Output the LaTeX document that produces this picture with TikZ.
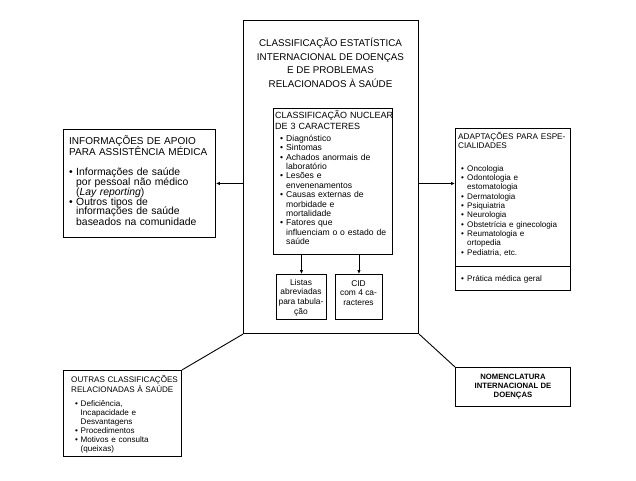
\documentclass[tikz,border=0pt]{standalone}
\usepackage{fontspec}
\setmainfont{Liberation Sans}
\usetikzlibrary{arrows.meta}
\newcommand\bl[1]{\makebox[#1][l]{\textbullet}}
\newcommand\ix[1]{\hspace*{#1}}
\newcommand\fst{\lineskiplimit=-1000pt\lineskip=0pt\rule{0pt}{1em}}
\begin{document}
\begin{tikzpicture}[x=1pt,y=-1pt,
  box/.style={draw, line width=0.9pt, inner sep=0pt, anchor=north west},
  txt/.style={inner sep=0pt, anchor=north west, align=left, text width=140pt},
  arr/.style={line width=0.9pt, -{Latex[length=4pt,width=3.5pt]}},
  ln/.style={line width=0.9pt}]
\useasboundingbox (0,0) rectangle (636,480);
\fill[white] (0,0) rectangle (636,480);

% main box
\node[box, line width=1.1pt, minimum width=175pt, minimum height=313pt] (main) at (243,20) {};
\node[inner sep=0pt, anchor=north, align=center, font=\fontsize{9.8}{13.5}\selectfont] (title) at (330.5,36.7)
  {\fst CLASSIFICAÇÃO ESTATÍSTICA\\INTERNACIONAL DE DOENÇAS\\E DE PROBLEMAS\\RELACIONADOS À SAÚDE};

% nuclear box
\node[box, minimum width=119pt, minimum height=146pt] (nuc) at (273,108) {};
\node[txt, font=\fontsize{9}{11}\selectfont] (nuct) at (275,109.2) {\fst CLASSIFICAÇÃO NUCLEAR\\DE 3 CARACTERES};
\node[txt, font=\fontsize{8.6}{9.4}\selectfont] (nuci) at (280,132.5)
  {\fst\bl{6pt}Diagnóstico\\\bl{6pt}Sintomas\\\bl{6pt}Achados anormais de\\\ix{6pt}laboratório\\
   \bl{6pt}Lesões e\\\ix{6pt}envenenamentos\\\bl{6pt}Causas externas de\\\ix{6pt}morbidade e\\\ix{6pt}mortalidade\\
   \bl{6pt}Fatores que\\\ix{6pt}influenciam o o estado de\\\ix{6pt}saúde};

% listas & CID
\node[box, minimum width=50pt, minimum height=45pt] (listas) at (276,274) {};
\node[inner sep=0pt, anchor=north, align=center, font=\fontsize{8.4}{9.6}\selectfont] (listast) at (301,276.6)
  {\fst Listas\\abreviadas\\para tabula-\\ção};
\node[box, minimum width=47pt, minimum height=45pt] (cid) at (335,274) {};
\node[inner sep=0pt, anchor=north, align=center, font=\fontsize{8.4}{9.6}\selectfont] (cidt) at (358.5,277.6)
  {\fst CID\\com 4 ca-\\racteres};
\draw[arr] (nuc.south -| listas.north) -- (listas.north);
\draw[arr] (nuc.south -| cid.north) -- (cid.north);

% left box
\node[box, minimum width=152pt, minimum height=108pt] (apoio) at (63,129) {};
\node[txt, font=\fontsize{10}{11}\selectfont] (apoiot) at (69,134.6) {\fst INFORMAÇÕES DE APOIO\\PARA ASSISTÊNCIA MÉDICA};
\node[txt, font=\fontsize{10.4}{9.7}\selectfont] (apoioi) at (69,165.3)
  {\fst\bl{7pt}Informações de saúde\\\ix{7pt}por pessoal não médico\\\ix{7pt}(\textit{Lay reporting})\\
   \bl{7pt}Outros tipos de\\\ix{7pt}informações de saúde\\\ix{7pt}baseados na comunidade};
\draw[arr] (apoio.east -| main.west) -- (apoio.east);

% right box
\node[box, minimum width=115pt, minimum height=162pt] (adapt) at (455,128) {};
\coordinate (sepl) at (455,266);
\coordinate (sepr) at (570,266);
\draw[ln] (sepl) -- (sepr);
\node[txt, font=\fontsize{8.2}{9.2}\selectfont] (adaptt) at (458,130.8) {\fst ADAPTAÇÕES PARA ESPE-\\CIALIDADES};
\node[txt, font=\fontsize{8.1}{9.33}\selectfont] (adapti) at (461,162.8)
  {\fst\bl{6pt}Oncologia\\\bl{6pt}Odontologia e\\\ix{6pt}estomatologia\\\bl{6pt}Dermatologia\\
   \bl{6pt}Psiquiatria\\\bl{6pt}Neurologia\\\bl{6pt}Obstetrícia e ginecologia\\
   \bl{6pt}Reumatologia e\\\ix{6pt}ortopedia\\\bl{6pt}Pediatria, etc.};
\node[txt, font=\fontsize{8.1}{9.33}\selectfont] (pratica) at (461,272.8) {\fst\bl{6pt}Prática médica geral};
\draw[arr] (apoio.east -| main.east) -- (apoio.east -| adapt.west);

% bottom left
\node[box, minimum width=118pt, minimum height=86pt] (outras) at (63,370) {};
\node[txt, font=\fontsize{8.1}{10}\selectfont] (outrast) at (71,373.8) {\fst OUTRAS CLASSIFICAÇÕES\\RELACIONADAS À SAÚDE};
\node[txt, font=\fontsize{8.1}{9}\selectfont] (outrasi) at (75,397.8)
  {\fst\bl{5.5pt}Deficiência,\\\ix{5.5pt}Incapacidade e\\\ix{5.5pt}Desvantagens\\\bl{5.5pt}Procedimentos\\
   \bl{5.5pt}Motivos e consulta\\\ix{5.5pt}(queixas)};
\draw[ln] (main.south west) -- (outras.north east);

% bottom right
\node[box, minimum width=115pt, minimum height=39pt, align=center, font=\bfseries\fontsize{7.7}{9}\selectfont] (nomen) at (455,367)
  {NOMENCLATURA\\INTERNACIONAL DE\\DOENÇAS};
\draw[ln] (main.south east) -- (nomen.north west);
\end{tikzpicture}
\end{document}
